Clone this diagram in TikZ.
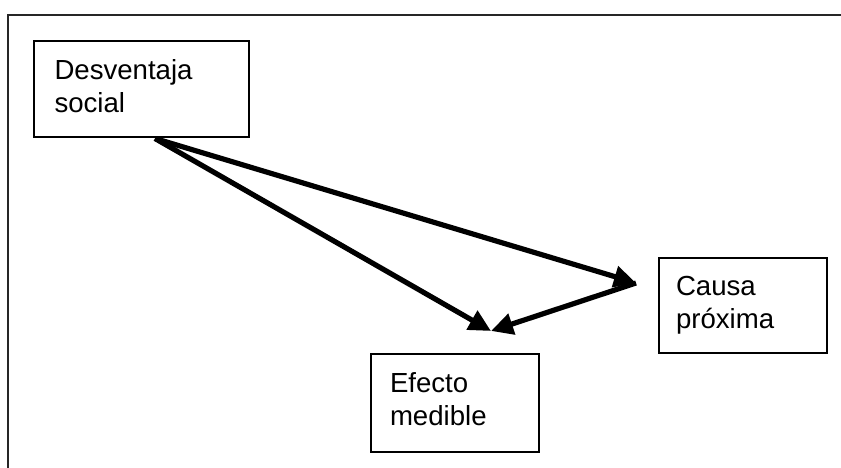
\documentclass[tikz,border=0pt]{standalone}
\usepackage{fontspec}
\setmainfont{Liberation Sans}
\usetikzlibrary{arrows.meta}
\begin{document}
\begin{tikzpicture}[x=1pt,y=-1pt,
  box/.style={draw=black, line width=1.7pt, rectangle, inner xsep=0pt, inner ysep=0pt,
    font=\fontsize{27.6}{33}\selectfont, align=left},
  conn/.style={line width=5.2pt, -{Triangle[length=22pt,width=21pt]}}]
\useasboundingbox (0,0) rectangle (841,468);
\fill[white] (0,0) rectangle (841,468);
% outer frame
\draw[line width=2pt, color=black!85] (841,15.5) -- (8,15.5) -- (8,468);
% boxes
\node[box, minimum width=215pt, minimum height=96pt, text width=174pt] (ds) at (141.5,89) {Desventaja\\social\vspace{6pt}};
\node[box, minimum width=168pt, minimum height=95pt, text width=134pt] (cp) at (743,305.5) {Causa\\próxima};
\node[box, minimum width=168pt, minimum height=98pt, text width=130pt] (em) at (455,403) {Efecto\\medible\vspace{8pt}};
% connector ends
\coordinate (s) at (155,138.5);
\coordinate (cin) at (636,283);
\coordinate (ein) at (491,331);
\draw[conn] (s) -- (cin);
\draw[conn] (s) -- (ein);
\draw[conn] (cin) -- (ein);
\end{tikzpicture}
\end{document}
